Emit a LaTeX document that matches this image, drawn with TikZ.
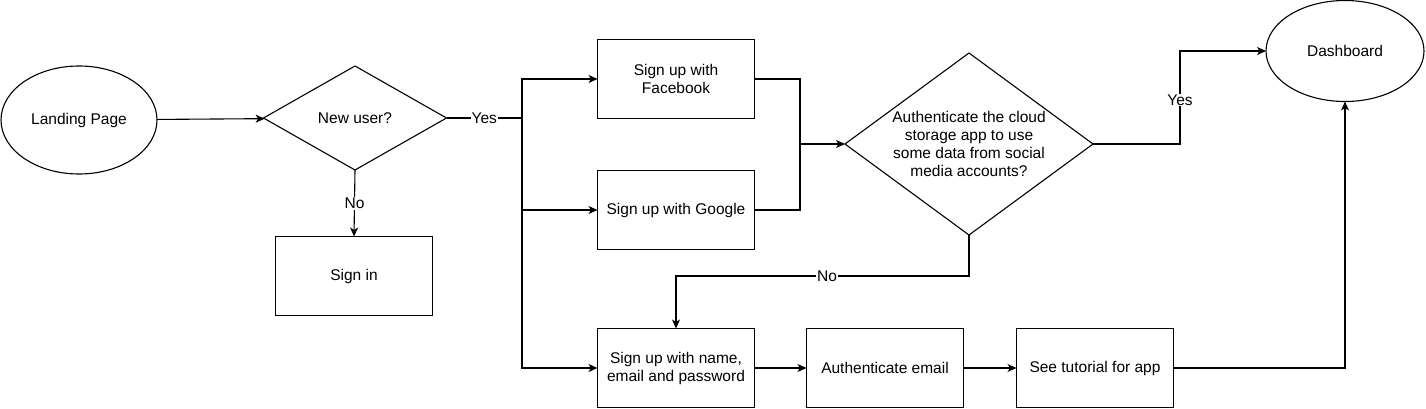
\documentclass[tikz,border=0pt]{standalone}
\usepackage{fontspec}
\setmainfont{Liberation Sans}
\usetikzlibrary{shapes,positioning,arrows.meta,calc}
\tikzstyle{lbl}=[fill=white, inner sep=1pt]
\tikzset{->,>={Stealth[length=9pt,width=8pt,inset=2.5pt]},every node/.style={font=\fontsize{15.5}{18}\selectfont}}
\newcommand{\drawoval}{\node[draw,ellipse,inner sep=0,outer sep=0]}
\newcommand{\drawbox}{\node[draw,rectangle,align=center,inner sep=0,outer sep=0,minimum width=157pt,minimum height=79pt]}
\newcommand{\drawdiam}{\node[draw,diamond,align=center,inner sep=-14pt,outer sep=0]}
\newcommand{\drawdummy}{\coordinate}

\begin{document}
\begin{tikzpicture}[x=1pt,y=-1pt,line width=1.1pt]
	\useasboundingbox (0,0) rectangle (1426,409);
	
	\drawoval (land) at (79,120) [minimum width=156pt,minimum height=108pt] {Landing Page};
	\drawdiam (newu) at (355,118) [minimum width=183pt,minimum height=104pt] {New user?};
	\drawbox (signin) at (354,276) {Sign in};
	\drawbox (fb) at (676,79) {Sign up with\\Facebook};
	\drawbox (goo) at (676,210) {Sign up with Google};
	\drawdiam (auth) at (969,144) [minimum width=248pt,minimum height=182pt] {Authenticate the cloud\\storage app to use\\some data from social\\media accounts?};
	\drawoval (dash) at (1345,51) [minimum width=158pt,minimum height=101pt] {Dashboard};
	\drawbox (email) at (676,368) {Sign up with name,\\email and password};
	\drawbox (mail) at (885,368) {Authenticate email};
	\drawbox (tut) at (1095,368) {See tutorial for app};
	
	\drawdummy (split) at (522,118);
	\drawdummy (join) at (800,144);
	\drawdummy (yturn) at (1180,100);
	\drawdummy (nturn) at (827,276);
	
	\draw[->] (land) to (newu);
	\draw[-] (newu.east) -- node[lbl] {Yes} (split);
	\draw[->] (newu.south) -- node[lbl] {No} (signin.north);
	
	\draw[->] (split) |- (fb.west);
	\draw[->] (split) |- (goo.west);
	\draw[->] (split) |- (email.west);
	
	\draw[-] (fb.east) -| (join);
	\draw[-] (goo.east) -| (join);
	\draw[->] (join) -- (auth.west);
	
	\draw[->] (auth.east) -| (yturn) node[lbl] {Yes} |- (dash.west);
	\draw[->] (auth.south) |- (nturn) node[lbl] {No} -| (email.north);
	
	\draw[->] (email) to (mail);
	\draw[->] (mail) to (tut);
	\draw[->] (tut.east) -| (dash.south);
	
\end{tikzpicture}
\end{document}
